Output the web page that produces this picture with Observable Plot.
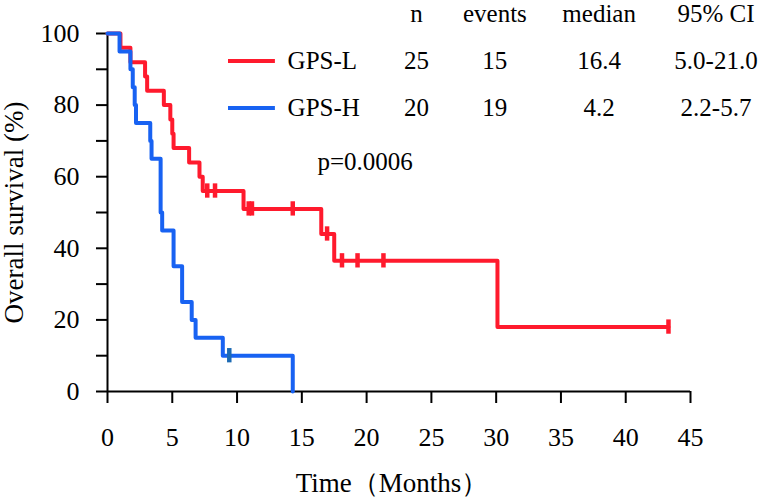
<!DOCTYPE html>
<html>
<head>
<meta charset="utf-8">
<script src="https://cdn.jsdelivr.net/npm/d3@7"></script>
<script src="https://cdn.jsdelivr.net/npm/@observablehq/plot@0.6"></script>
<style>
  html, body { margin: 0; padding: 0; background: #fff; }
  svg, svg text { font-family: "Liberation Serif", "Times New Roman", serif !important; }
</style>
</head>
<body>
<div id="chart"></div>
<script>
// ---- Data ----
const groups = ["GPS-L", "GPS-H"];
const nValues = [25, 20];
const eventValues = [15, 19];
const medianValues = ["16.4", "4.2"];
const ciValues = ["5.0-21.0", "2.2-5.7"];
const tableHeaders = ["n", "events", "median", "95% CI"];
const pValueLabel = "p=0.0006";

// Kaplan-Meier step points: time (months) and survival (%) after each step
const gpsLTime     = [0, 1.0, 1.77, 2.9, 3.06, 4.35, 4.85, 5.0, 5.1, 6.3, 7.1, 7.35, 10.5, 16.5, 17.5, 30.1, 43.3];
const gpsLSurvival = [100, 96, 92, 88, 84, 80, 76, 72, 68, 64, 60, 56, 51, 44, 36.5, 18, 18];
const gpsLCensorTime     = [7.7, 8.3, 10.9, 11.15, 14.3, 16.95, 18.1, 19.3, 21.3, 43.3];
const gpsLCensorSurvival = [56, 56, 51, 51, 51, 44, 36.5, 36.5, 36.5, 18];

const gpsHTime     = [0, 0.93, 1.77, 1.95, 2.1, 2.2, 3.3, 3.4, 4.1, 4.22, 5.1, 5.76, 6.5, 6.8, 8.9, 14.3];
const gpsHSurvival = [100, 95, 90, 85, 80, 75, 70, 65, 50, 45, 35, 25, 20, 15, 10, 0];
const gpsHCensorTime     = [9.4];
const gpsHCensorSurvival = [10];

const xTicks = [0, 5, 10, 15, 20, 25, 30, 35, 40, 45];
const yTicks = [0, 10, 20, 30, 40, 50, 60, 70, 80, 90, 100];
const yLabelTicks = [0, 20, 40, 60, 80, 100];

// ---- Styling / layout ----
const RED = "#FF1A2D";
const BLUE = "#1862F2";
const BLUE_CENSOR = "#1C6AB4";
const FONT = "Liberation Serif";

const toPts = (t, s) => t.map((d, i) => ({t: d, s: s[i]}));
const redPts = toPts(gpsLTime, gpsLSurvival);
const bluePts = toPts(gpsHTime, gpsHSurvival);
const redCens = toPts(gpsLCensorTime, gpsLCensorSurvival);
const blueCens = toPts(gpsHCensorTime, gpsHCensorSurvival);

// table layout (in data units of the chart)
const colX = [23.85, 29.9, 37.95, 46.97];
const headerY = 105.5;
const rowY = [92.3, 79.2];
const legendX1 = 9.34, legendX2 = 12.96, labelX = 13.9;
const colors = [RED, BLUE];

const headerRows = tableHeaders.map((h, i) => ({text: h, x: colX[i], y: headerY}));
const cellRows = [];
groups.forEach((g, r) => {
  [nValues[r], eventValues[r], medianValues[r], ciValues[r]].forEach((v, c) => {
    cellRows.push({text: String(v), x: colX[c], y: rowY[r]});
  });
});
const legendRows = groups.map((g, r) => ({g, y: rowY[r], color: colors[r]}));

const chart = Plot.plot({
  width: 758,
  height: 499,
  marginLeft: 107,
  marginRight: 68,
  marginTop: 33,
  marginBottom: 108,
  x: {domain: [0, 45]},
  y: {domain: [0, 100]},
  style: {fontFamily: FONT, fontSize: "26px", color: "black", background: "white", overflow: "visible"},
  marks: [
    Plot.axisX({ticks: xTicks, tickSize: 12, tickPadding: 24, strokeWidth: 2, label: null, fontSize: 26, fontFamily: FONT}),
    Plot.axisY({ticks: yTicks, tickSize: 11, tickPadding: 17, strokeWidth: 2, label: null, fontSize: 26, fontFamily: FONT,
      tickFormat: d => yLabelTicks.includes(d) ? String(d) : ""}),
    Plot.ruleY([0], {strokeWidth: 2}),
    Plot.ruleX([0], {strokeWidth: 2}),
    Plot.line(redPts, {x: "t", y: "s", curve: "step-after", stroke: RED, strokeWidth: 4}),
    Plot.ruleX(redCens, {x: "t", y1: d => d.s - 2, y2: d => d.s + 2, stroke: RED, strokeWidth: 4.5}),
    Plot.line(bluePts, {x: "t", y: "s", curve: "step-after", stroke: BLUE, strokeWidth: 4}),
    Plot.ruleX(blueCens, {x: "t", y1: d => d.s - 2, y2: d => d.s + 2, stroke: BLUE_CENSOR, strokeWidth: 4.5}),
    // table / legend
    Plot.text(headerRows, {x: "x", y: "y", text: "text", fontSize: 25, fontFamily: FONT, textAnchor: "middle"}),
    Plot.text(cellRows, {x: "x", y: "y", text: "text", fontSize: 25, fontFamily: FONT, textAnchor: "middle"}),
    Plot.ruleY(legendRows, {y: "y", x1: legendX1, x2: legendX2, stroke: "color", strokeWidth: 4}),
    Plot.text(legendRows, {x: labelX, y: "y", text: "g", fontSize: 25, fontFamily: FONT, textAnchor: "start"}),
    Plot.text([pValueLabel], {x: 16.2, y: 64, text: d => d, fontSize: 25, fontFamily: FONT, textAnchor: "start"}),
    // axis titles
    Plot.text(["Time（Months）"], {frameAnchor: "bottom", text: d => d, dy: 100, dx: -7, fontSize: 27, fontFamily: FONT, textAnchor: "middle"}),
    Plot.text(["Overall survival (%)"], {frameAnchor: "left", text: d => d, rotate: -90, dx: -93, fontSize: 27, fontFamily: FONT, textAnchor: "middle"})
  ]
});
document.getElementById("chart").appendChild(chart);
</script>
</body>
</html>
